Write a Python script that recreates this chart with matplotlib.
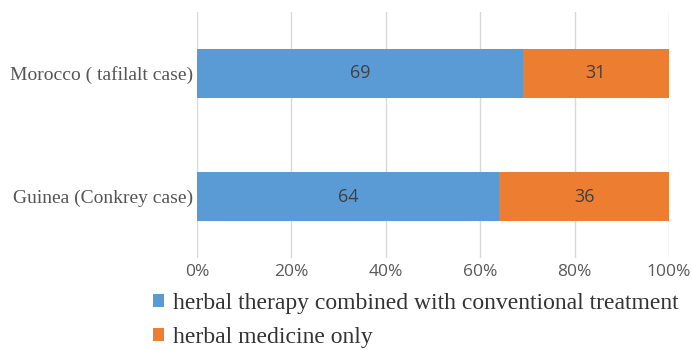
import matplotlib
matplotlib.use("Agg")
import matplotlib.pyplot as plt
import numpy as np

# Share of patients by treatment type, per case study
cases = ["Guinea (Conkrey case)", "Morocco ( tafilalt case)"]
combined = [64, 69]
herbal_only = [36, 31]
series_names = ["herbal therapy combined with conventional treatment",
                "herbal medicine only"]
ticks = [0, 20, 40, 60, 80, 100]
tick_labels = ["0%", "20%", "40%", "60%", "80%", "100%"]

blue = "#5b9bd5"
orange = "#ed7d31"
serif = ["Liberation Serif", "DejaVu Serif"]
sans = ["Open Sans", "DejaVu Sans"]

fig = plt.figure(figsize=(6.92, 3.5), dpi=100)
ax = fig.add_axes([197 / 692, 92 / 350, 472 / 692, 246 / 350])

y = np.arange(len(cases))
b1 = ax.barh(y, combined, height=0.4, color=blue, label=series_names[0], zorder=2)
b2 = ax.barh(y, herbal_only, left=combined, height=0.4, color=orange,
             label=series_names[1], zorder=2)

for bars, vals in ((b1, combined), (b2, herbal_only)):
    ax.bar_label(bars, labels=[str(v) for v in vals], label_type="center",
                 color="#404040", fontsize=13, family=sans)

ax.set_xlim(0, 100)
ax.set_ylim(-0.5, 1.5)
ax.set_xticks(ticks)
ax.set_xticklabels(tick_labels, family=sans, fontsize=12.5, color="#595959")
ax.set_yticks(y)
ax.set_yticklabels(cases, family=serif, fontsize=14, color="#555555")
ax.tick_params(axis="both", length=0)
ax.tick_params(axis="x", pad=4)
ax.tick_params(axis="y", pad=3)
ax.xaxis.grid(True, color="#d9d9d9", linewidth=1, zorder=0)
for s in ax.spines.values():
    s.set_visible(False)

fig.legend(handles=[b1, b2], loc="upper left", bbox_to_anchor=(153 / 692, 57 / 350),
           frameon=False, prop={"family": serif, "size": 17}, handlelength=0.45,
           handleheight=0.45, handletextpad=0.4, labelspacing=0.55,
           borderaxespad=0, borderpad=0, labelcolor="#333333")

fig.savefig("out.png", dpi=100)
